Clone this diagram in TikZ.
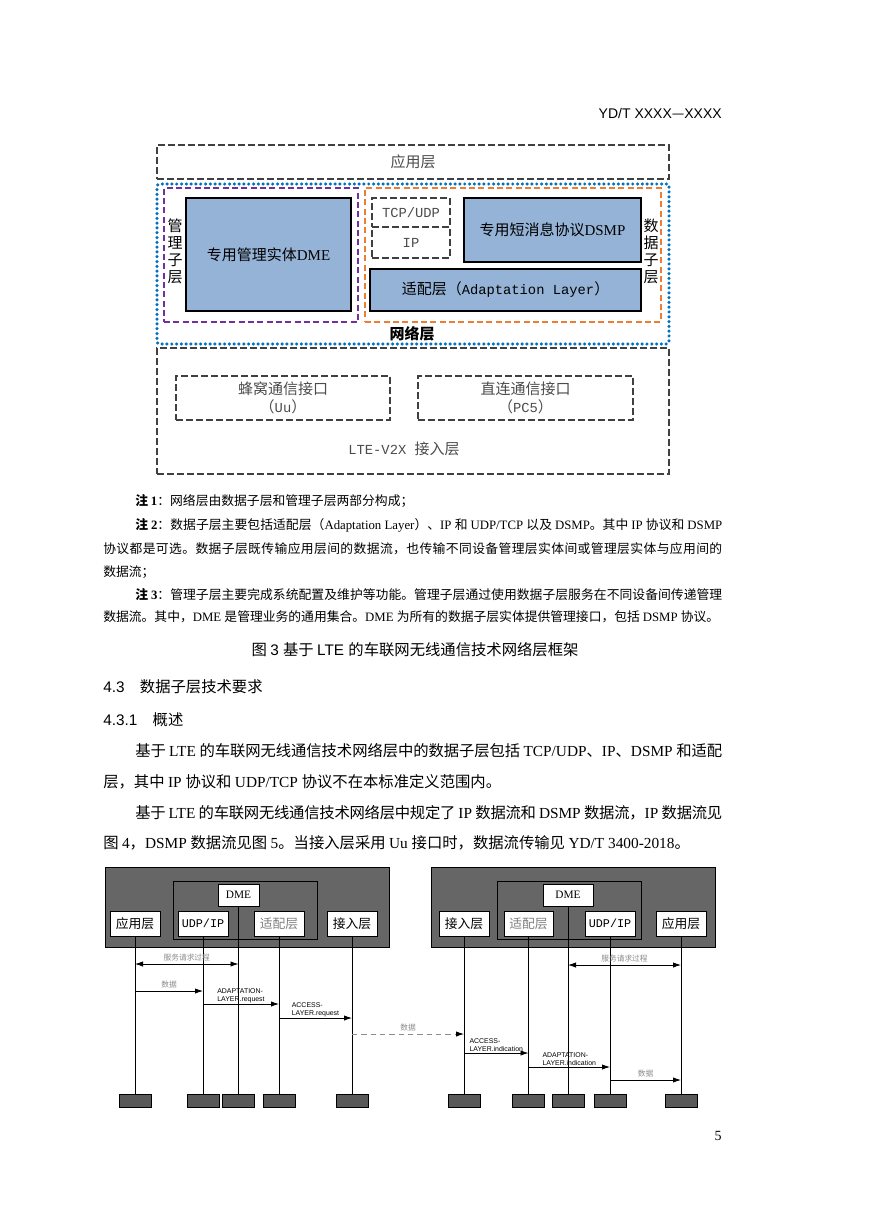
\documentclass[tikz,border=0pt]{standalone}
\usepackage{fontspec}
\setmainfont{Liberation Serif}
\setsansfont{Liberation Sans}
\setmonofont[Scale=0.92]{Liberation Mono}
\newfontfamily\cjk{Noto Sans CJK SC}
\usetikzlibrary{arrows.meta, positioning, fit}

% CJK characters go to the CJK font, everything else to \latinfont
\XeTeXinterchartokenstate=1
\chardef\cjkcls=1\relax
\def\setcjkrange#1#2{\count255=#1\relax
  \loop\XeTeXcharclass\count255=\cjkcls\relax
  \advance\count255 by 1\relax\ifnum\count255<#2\relax\repeat}
\setcjkrange{"3000}{"3040}
\setcjkrange{"4E00}{"A000}
\setcjkrange{"FF00}{"FFF0}
\XeTeXcharclass"2014=\cjkcls
\newcommand\latinfont{\rmfamily}
\XeTeXinterchartoks 0 \cjkcls = {\cjk}
\XeTeXinterchartoks 4095 \cjkcls = {\cjk}
\XeTeXinterchartoks \cjkcls 0 = {\latinfont}
\XeTeXinterchartoks 4095 0 = {\latinfont}
\XeTeXinterchartoks \cjkcls \cjkcls = {\hskip 0pt plus 0.1em minus 0.04em\relax}

\newcommand\rmlatin{\def\latinfont{\rmfamily}\rmfamily}
\newcommand\sflatin{\def\latinfont{\sffamily}\sffamily}
\newcommand\ttlatin{\def\latinfont{\ttfamily}\ttfamily}
\newcommand\figfont{\ttlatin\fontsize{11.25}{13.5}\selectfont}
\newcommand\unitfont{\rmlatin\fontsize{11.25}{13.5}\selectfont}
\newcommand\sidefont{\rmlatin\fontsize{11.25}{12.75}\selectfont}
\newcommand\notefont{\rmlatin\fontsize{9.6}{12}\selectfont}
\newcommand\bodyfont{\rmlatin\fontsize{11.5}{14}\selectfont}
\newcommand\headfont{\sflatin\fontsize{11.5}{14}\selectfont}
\newcommand\seqfont{\ttlatin\fontsize{9.6}{11}\selectfont}
\newcommand\dmefont{\rmlatin\fontsize{8.5}{10}\selectfont}
\newcommand\tinyfont{\rmlatin\fontsize{5.8}{7}\selectfont}
\newcommand\primfont{\sflatin\fontsize{5.2}{5.8}\selectfont}

\definecolor{netblue}{RGB}{0,112,192}
\definecolor{mgmtpurple}{RGB}{112,48,160}
\definecolor{dataorange}{RGB}{237,125,49}
\definecolor{unitfill}{RGB}{149,179,215}
\definecolor{seqgray}{RGB}{102,102,102}

\begin{document}
\begin{tikzpicture}[x=0.75pt, y=-0.75pt,
    txt/.style={anchor=west, inner sep=0pt},
    layerbox/.style={draw=black!75, line width=0.9pt, dash pattern=on 5pt off 2.5pt, inner sep=0pt},
    boxtext/.style={font=\figfont, text=black!70, align=center, inner sep=0pt},
    unittext/.style={font=\unitfont, align=center, inner sep=0pt},
    netbox/.style={draw=netblue, line width=2.6pt, line cap=round, dash pattern=on 0pt off 3.6pt, rounded corners=2pt, inner sep=0pt},
    mgmtbox/.style={draw=mgmtpurple, line width=0.8pt, dash pattern=on 4.5pt off 2.5pt, inner sep=0pt},
    databox/.style={mgmtbox, draw=dataorange},
    unitbox/.style={draw=black, line width=0.8pt, fill=unitfill, inner sep=0pt},
    sidelabel/.style={align=center, font=\sidefont},
    seqbg/.style={draw=black, fill=seqgray, line width=0.6pt, inner sep=0pt},
    seqin/.style={draw=black, line width=0.6pt, inner sep=0pt},
    seqbox/.style={draw=black, fill=white, line width=0.5pt, inner sep=0pt},
    seqtext/.style={font=\seqfont, inner sep=0pt},
    seqend/.style={draw=black, fill=black!65, line width=0.5pt, minimum width=24pt, minimum height=9.75pt, inner sep=0pt},
    lifeline/.style={line width=0.6pt},
    msgarrow/.style={line width=0.6pt, -{Latex[length=6pt, width=4pt]}},
    dmsg/.style={msgarrow, {Latex[length=6pt, width=4pt]}-{Latex[length=6pt, width=4pt]}},
    dashmsg/.style={msgarrow, draw=black!45, dash pattern=on 4pt off 3pt, -{Latex[length=6pt, width=4pt, color=black]}},
    msglabel/.style={font=\tinyfont, text=black!45, inner sep=1.5pt},
    primlabel/.style={font=\primfont, align=left, inner sep=0.8pt}
]
    \fill[white] (0,0) rectangle (869,1228);
    \useasboundingbox (0,0) rectangle (869,1228);

    % --- Header ---
    \node[txt, anchor=east, font=\sflatin\fontsize{10.5}{12}\selectfont] (hdr) at (722,113) {YD/T XXXX—XXXX};

    % --- Figure 3: network layer ---
    \node[layerbox, fit={(157,145) (669,179)}, label={[boxtext]center:应用层}] (app) {};
    \node[netbox, fit={(157,184) (669,344)}] (net) {};
    \node[mgmtbox, fit={(164,188) (358,322)}] (mgmt) {};
    \node[databox, fit={(365,188) (661,322)}] (data) {};
    \node[unitbox, fit={(186,198) (351,311)}, label={[unittext]center:专用管理实体DME}] (dme) {};
    \node[layerbox, fit={(372,198) (450,227)}, label={[boxtext]center:TCP/UDP}] (tcp) {};
    \node[layerbox, fit={(372,227) (450,258)}, label={[boxtext]center:IP}] (ip) {};
    \node[unitbox, fit={(464,198) (641,262)}, label={[unittext]center:专用短消息协议DSMP}] (dsmp) {};
    \node[unitbox, fit={(370,269) (641,311)}, label={[boxtext, text=black]center:适配层（Adaptation Layer）}] (adapt) {};
    \node[sidelabel] (mgmtlbl) at (175,251) {管\\理\\子\\层};
    \node[sidelabel] (datalbl) at (651,251) {数\\据\\子\\层};
    \node[font=\figfont\bfseries] (netlbl) at (412,334) {网络层};

    % access layer
    \node[layerbox, fit={(157,348) (669,474)}] (acc) {};
    \node[layerbox, fit={(176,376) (390,420)}, label={[boxtext]center:蜂窝通信接口\\（Uu）}] (uu) {};
    \node[layerbox, fit={(418,376) (633,420)}, label={[boxtext]center:直连通信接口\\（PC5）}] (pc5) {};
    \node[boxtext] (acclbl) at (404,449) {LTE-V2X 接入层};

    % --- Notes and caption ---
    \node[txt, font=\notefont] (n1) at (135,501) {{\bfseries 注 1}：网络层由数据子层和管理子层两部分构成；};
    \node[txt, font=\notefont] (n2a) at (135,525) {\hbox to 440.25pt{{\bfseries 注 2}：数据子层主要包括适配层（Adaptation Layer）、IP 和 UDP/TCP 以及 DSMP。其中 IP 协议和 DSMP}};
    \node[txt, font=\notefont] (n2b) at (103,549) {\hbox to 464.25pt{协议都是可选。数据子层既传输应用层间的数据流，也传输不同设备管理层实体间或管理层实体与应用间的}};
    \node[txt, font=\notefont] (n2c) at (103,572) {数据流；};
    \node[txt, font=\notefont] (n3a) at (135,595) {\hbox to 440.25pt{{\bfseries 注 3}：管理子层主要完成系统配置及维护等功能。管理子层通过使用数据子层服务在不同设备间传递管理}};
    \node[txt, font=\notefont] (n3b) at (103,617) {\hbox to 462pt{数据流。其中，DME 是管理业务的通用集合。DME 为所有的数据子层实体提供管理接口，包括 DSMP 协议。}};
    \node[font=\headfont] (cap) at (415,650) {图 3 基于 LTE 的车联网无线通信技术网络层框架};

    % --- Section text ---
    \node[txt, font=\headfont] (s43) at (103,687) {4.3\hspace{1em}数据子层技术要求};
    \node[txt, font=\headfont] (s431) at (103,720) {4.3.1\hspace{1em}概述};
    \node[txt, font=\bodyfont] (p1a) at (135,751) {\hbox to 440.25pt{基于 LTE 的车联网无线通信技术网络层中的数据子层包括 TCP/UDP、IP、DSMP 和适配}};
    \node[txt, font=\bodyfont] (p1b) at (103,782) {层，其中 IP 协议和 UDP/TCP 协议不在本标准定义范围内。};
    \node[txt, font=\bodyfont] (p2a) at (135,813) {\hbox to 440.25pt{基于 LTE 的车联网无线通信技术网络层中规定了 IP 数据流和 DSMP 数据流，IP 数据流见}};
    \node[txt, font=\bodyfont] (p2b) at (103,843) {图 4，DSMP 数据流见图 5。当接入层采用 Uu 接口时，数据流传输见 YD/T 3400-2018。};

    % --- Figure 4: sending side ---
    \node[seqbg, fit={(105,867) (389,947)}] (bgL) {};
    \node[seqin, fit={(173,881) (317,939)}] (inL) {};
    \node[seqbox, fit={(218,884) (259,906)}, label={[seqtext, font=\dmefont]center:DME}] (dmeL) {};
    \node[seqbox, fit={(110,911) (160,936)}, label={[seqtext]center:应用层}] (appL) {};
    \node[seqbox, fit={(178,911) (228,936)}, label={[seqtext]center:UDP/IP}] (udpL) {};
    \node[seqbox, fit={(254,911) (304,936)}, label={[seqtext, text=black!50]center:适配层}] (adpL) {};
    \node[seqbox, fit={(327,911) (377,936)}, label={[seqtext]center:接入层}] (accL) {};
    \node[seqend] (appLe) at (appL |- 0,1101) {};
    \node[seqend] (udpLe) at (udpL |- 0,1101) {};
    \node[seqend] (dmeLe) at (dmeL |- 0,1101) {};
    \node[seqend] (adpLe) at (adpL |- 0,1101) {};
    \node[seqend] (accLe) at (accL |- 0,1101) {};
    \draw[lifeline] (appL) -- (appLe);
    \draw[lifeline] (udpL) -- (udpLe);
    \draw[lifeline] (dmeL) -- (dmeLe);
    \draw[lifeline] (adpL) -- (adpLe);
    \draw[lifeline] (accL) -- (accLe);

    % --- Figure 4: receiving side ---
    \node[seqbg, fit={(431,867) (715,947)}] (bgR) {};
    \node[seqin, fit={(497,881) (641,939)}] (inR) {};
    \node[seqbox, fit={(543,884) (593,906)}, label={[seqtext, font=\dmefont]center:DME}] (dmeR) {};
    \node[seqbox, fit={(439,911) (489,936)}, label={[seqtext]center:接入层}] (accR) {};
    \node[seqbox, fit={(504,911) (553,936)}, label={[seqtext, text=black!50]center:适配层}] (adpR) {};
    \node[seqbox, fit={(585,911) (635,936)}, label={[seqtext]center:UDP/IP}] (udpR) {};
    \node[seqbox, fit={(656,911) (706,936)}, label={[seqtext]center:应用层}] (appR) {};
    \node[seqend] (accRe) at (accR |- 0,1101) {};
    \node[seqend] (adpRe) at (adpR |- 0,1101) {};
    \node[seqend] (dmeRe) at (dmeR |- 0,1101) {};
    \node[seqend] (udpRe) at (udpR |- 0,1101) {};
    \node[seqend] (appRe) at (appR |- 0,1101) {};
    \draw[lifeline] (accR) -- (accRe);
    \draw[lifeline] (adpR) -- (adpRe);
    \draw[lifeline] (dmeR) -- (dmeRe);
    \draw[lifeline] (udpR) -- (udpRe);
    \draw[lifeline] (appR) -- (appRe);

    % --- Messages ---
    \draw[dmsg] (appL |- 0,964) -- node[msglabel, above] {服务请求过程} (dmeL |- 0,964);
    \draw[msgarrow] (appL |- 0,991) -- node[msglabel, above] {数据} (udpL |- 0,991);
    \draw[msgarrow] (udpL |- 0,1004) -- node[primlabel, above] {ADAPTATION-\\LAYER.request} (adpL |- 0,1004);
    \draw[msgarrow] (adpL |- 0,1018) -- node[primlabel, above] {ACCESS-\\LAYER.request} (accL |- 0,1018);
    \draw[dashmsg] (accL |- 0,1034) -- node[msglabel, above] {数据} (accR |- 0,1034);
    \draw[dmsg] (dmeR |- 0,965) -- node[msglabel, above] {服务请求过程} (appR |- 0,965);
    \draw[msgarrow] (accR |- 0,1053) -- node[primlabel, above] {ACCESS-\\LAYER.indication} (adpR |- 0,1053);
    \draw[msgarrow] (adpR |- 0,1067) -- node[primlabel, above] {ADAPTATION-\\LAYER.indication} (udpR |- 0,1067);
    \draw[msgarrow] (udpR |- 0,1080) -- node[msglabel, above] {数据} (appR |- 0,1080);

    % page number
    \node[font=\rmlatin\fontsize{10.5}{12}\selectfont] (pg) at (718,1136) {5};
\end{tikzpicture}
\end{document}
